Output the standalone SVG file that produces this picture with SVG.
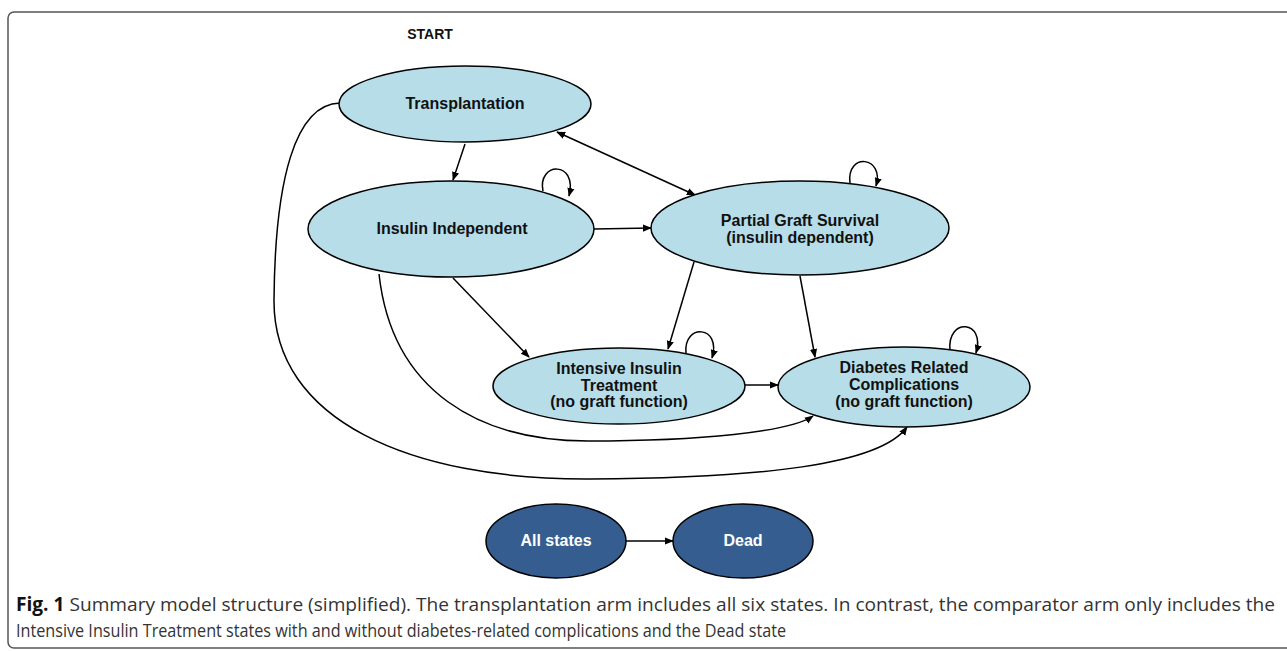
<svg xmlns="http://www.w3.org/2000/svg" width="1287" height="651" viewBox="0 0 1287 651">
<style>
.light{fill:#b7dde8;stroke:#000;stroke-width:1.5}
.dark{fill:#365d8f;stroke:#000;stroke-width:1.5}
.lbl{font-family:"Liberation Sans",Arial,sans-serif;font-weight:bold;font-size:16px;fill:#111;text-anchor:middle}
.wlbl{font-family:"Liberation Sans",Arial,sans-serif;font-weight:bold;font-size:16px;fill:#fff;text-anchor:middle}
.edge{fill:none;stroke:#000;stroke-width:1.5;marker-end:url(#ah)}
.cap{font-family:"Open Sans",sans-serif;font-size:19px;fill:#333}
</style>
<defs>
<marker id="ah" viewBox="0 0 10 10" refX="9" refY="5" markerWidth="9" markerHeight="9" orient="auto" markerUnits="userSpaceOnUse">
<path d="M0,1 L10,5 L0,9 Z" fill="#000"/>
</marker>
<marker id="ahs" viewBox="0 0 10 10" refX="1" refY="5" markerWidth="9" markerHeight="9" orient="auto" markerUnits="userSpaceOnUse">
<path d="M10,1 L0,5 L10,9 Z" fill="#000"/>
</marker>
</defs>
<rect x="8" y="12" width="1290" height="636" rx="6" fill="#fff" stroke="#555" stroke-width="1.5"/>
<text x="430" y="39" class="lbl" style="font-size:14px">START</text>

<g id="connectors">
<path class="edge" d="M465,144 L453,180"/>
<path class="edge" d="M557,132 L695,195" style="marker-start:url(#ahs)"/>
<path class="edge" d="M594,229 L651,228"/>
<path class="edge" d="M453,278 L529,357"/>
<path class="edge" d="M694,262 L668,349"/>
<path class="edge" d="M800,276 L815,357"/>
<path class="edge" d="M745,385 L778,385"/>
<path class="edge" d="M626,541 L673,541"/>
<path class="edge" d="M543,191 C537,162 578,160 569,196"/>
<path class="edge" d="M850,183 C846,152 885,156 876,186"/>
<path class="edge" d="M686,353 C683,323 722,325 712,358"/>
<path class="edge" d="M950,350 C947,317 986,320 976,353"/>
<path class="edge" d="M379,274 C392,392 480,441 588,441 C700,441 790,432 813,416"/>
<path class="edge" d="M340,103 C295,104 275,180 274,300 C273,420 410,480 590,479 C760,478 880,465 907,427"/>
</g>

<g id="transplantation">
<ellipse class="light" cx="465" cy="104" rx="126" ry="38"/>
<text class="lbl" x="465" y="109">Transplantation</text>
</g>
<g id="insulin-independent">
<ellipse class="light" cx="451" cy="229" rx="143" ry="48"/>
<text class="lbl" x="452" y="234">Insulin Independent</text>
</g>
<g id="partial-graft">
<ellipse class="light" cx="800" cy="228" rx="149" ry="47"/>
<text class="lbl" x="800" y="226">Partial Graft Survival</text>
<text class="lbl" x="800" y="243">(insulin dependent)</text>
</g>
<g id="intensive-insulin">
<ellipse class="light" cx="619" cy="386" rx="126" ry="38"/>
<text class="lbl" x="619" y="374">Intensive Insulin</text>
<text class="lbl" x="619" y="391">Treatment</text>
<text class="lbl" x="619" y="407">(no graft function)</text>
</g>
<g id="diabetes-complications">
<ellipse class="light" cx="904" cy="387" rx="126" ry="40"/>
<text class="lbl" x="904" y="373">Diabetes Related</text>
<text class="lbl" x="904" y="390">Complications</text>
<text class="lbl" x="904" y="407">(no graft function)</text>
</g>
<g id="all-states">
<ellipse class="dark" cx="556" cy="541" rx="70" ry="37"/>
<text class="wlbl" x="556" y="546">All states</text>
</g>
<g id="dead">
<ellipse class="dark" cx="743" cy="541" rx="70" ry="37"/>
<text class="wlbl" x="743" y="546">Dead</text>
</g>

<text class="cap" x="16" y="611" textLength="1259" lengthAdjust="spacingAndGlyphs"><tspan font-weight="bold" fill="#111">Fig. 1</tspan> Summary model structure (simplified). The transplantation arm includes all six states. In contrast, the comparator arm only includes the</text>
<text class="cap" x="16" y="637" textLength="770" lengthAdjust="spacingAndGlyphs">Intensive Insulin Treatment states with and without diabetes-related complications and the Dead state</text>
</svg>
